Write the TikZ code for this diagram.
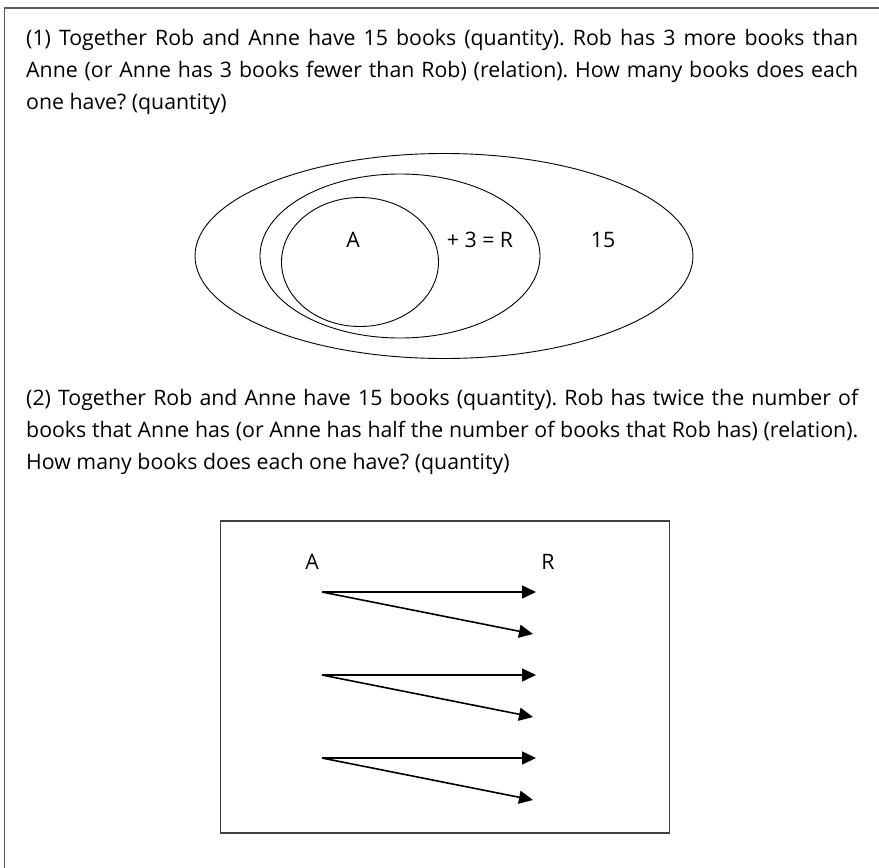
\documentclass[tikz,border=0pt]{standalone}
\usepackage{fontspec}
\setmainfont{Open Sans}
\usepackage{tikz}
\usetikzlibrary{shapes,arrows.meta,positioning,calc}

\tikzset{
  txt/.style={font=\fontsize{21.3}{32}\selectfont, inner sep=0pt},
  para/.style={txt, text width=832pt, align=justify, anchor=north west},
  oval/.style={draw, ellipse, line width=0.9pt, inner sep=0pt},
  twice/.style={line width=1.6pt, -{Triangle[length=14pt,width=13pt]}}
}

\begin{document}
\frenchspacing
\begin{tikzpicture}[x=1pt,y=-1pt]
  \useasboundingbox (0,0) rectangle (879,868);
  % outer frame (open to the right and bottom)
  \draw[line width=1.5pt, black!65] (4.5,868) -- (4.5,8) -- (879,8);

  % first problem
  \node[para] (prob1) at (26,29) {\hbadness=10000 (1) Together Rob and Anne have 15 books (quantity). Rob has 3 more books than\linebreak
    Anne (or Anne has 3 books fewer than Rob) (relation). How many books does each\linebreak
    one have? (quantity)};

  % nested sets
  \node[oval, minimum width=498, minimum height=205] (total) at (444,256) {};
  \node[oval, minimum width=280, minimum height=164] (rob) at (400,256) {};
  \node[oval, minimum width=157, minimum height=129] (anne) at (360,262) {};
  \node[txt] (lblA) at (353,240) {A};
  \node[txt] (lblR) at (480,240) {+ 3 = R};
  \node[txt] (lbl15) at (603,240) {15};

  % second problem
  \node[para] (prob2) at (26,389) {\hbadness=10000 (2) Together Rob and Anne have 15 books (quantity). Rob has twice the number of\linebreak
    books that Anne has (or Anne has half the number of books that Rob has) (relation).\linebreak
    How many books does each one have? (quantity)};

  % mapping box
  \node[draw, line width=1.2pt, black!75, minimum width=449, minimum height=312, inner sep=0pt] (mapbox) at (444.6,677) {};
  \node[txt] (colA) at (312,562) {A};
  \node[txt] (colR) at (548,562) {R};

  \coordinate (a1) at (322,592);
  \coordinate (r1) at (536,592);
  \coordinate (r2) at (533,634);
  \draw[twice] (a1) -- (r1);
  \draw[twice] (a1) -- (r2);

  \coordinate (a2) at (322,675);
  \coordinate (r3) at (536,675);
  \coordinate (r4) at (533,717);
  \draw[twice] (a2) -- (r3);
  \draw[twice] (a2) -- (r4);

  \coordinate (a3) at (322,758);
  \coordinate (r5) at (536,758);
  \coordinate (r6) at (533,800);
  \draw[twice] (a3) -- (r5);
  \draw[twice] (a3) -- (r6);
\end{tikzpicture}
\end{document}
